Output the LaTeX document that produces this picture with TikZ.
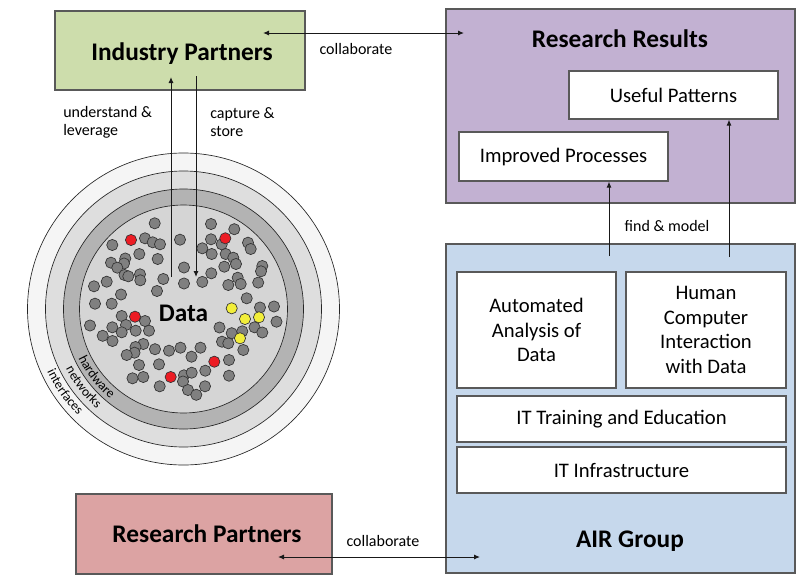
\documentclass[tikz,border=0pt]{standalone}
\usepackage{fontspec}
\setmainfont{Carlito}
\usetikzlibrary{arrows.meta,fit,decorations.text}

\definecolor{greenfill}{HTML}{CDDDAC}
\definecolor{purplefill}{HTML}{C2B1D2}
\definecolor{bluefill}{HTML}{C6D8EC}
\definecolor{redfill}{HTML}{DCA3A3}
\definecolor{frame}{HTML}{595959}
\definecolor{ringA}{HTML}{F5F5F5}
\definecolor{ringB}{HTML}{DEDEDE}
\definecolor{ringC}{HTML}{B3B3B3}
\definecolor{ringD}{HTML}{D5D5D5}
\definecolor{dotgray}{HTML}{808080}
\definecolor{dotedge}{HTML}{333333}
\definecolor{dotred}{HTML}{EC1C24}
\definecolor{dotyellow}{HTML}{F2EE3A}

\newcommand\titlefont{\fontsize{19}{22}\selectfont\bfseries}
\newcommand\boxfont{\fontsize{15.5}{18.4}\selectfont}
\newcommand\notefont{\fontsize{12}{13.6}\selectfont}

\tikzset{
  panel/.style={draw=frame, line width=0.9pt, inner sep=0pt},
  whitebox/.style={panel, fill=white},
  boxtext/.style={font=\boxfont, align=center, inner sep=0pt},
  title/.style={font=\titlefont, inner sep=0pt},
  note/.style={font=\notefont, align=left, inner sep=0pt},
  link/.style={line width=0.75pt, draw=black!90, -{Latex[length=4.5pt,width=3.8pt]}},
  duplex/.style={line width=0.75pt, draw=black!90, {Latex[length=4.5pt,width=3.8pt]}-{Latex[length=4.5pt,width=3.8pt]}},
  ring/.style={draw=black!85, line width=0.5pt},
  dotg/.style={draw=dotedge, line width=0.5pt, fill=dotgray},
  dotr/.style={draw=dotedge, line width=0.5pt, fill=dotred},
  doty/.style={draw=dotedge, line width=0.5pt, fill=dotyellow},
  ringlabel/.style={decorate, decoration={text along path, text align=center, text={|\fontsize{10}{12}\selectfont|#1}}}
}

\begin{document}
\begin{tikzpicture}[x=0.75pt,y=0.75pt]
\useasboundingbox (0,0) rectangle (804,-582);

% ---------- partner and result panels ----------
\node[panel, fill=greenfill, fit={(55,-11) (305,-90)}] (ip) {};
\node[title] (iptext) at (182,-54) {Industry Partners};

\node[panel, fill=purplefill, fit={(446,-9) (795,-203)}] (rr) {};
\node[title] (rrtext) at (620,-39) {Research Results};
\node[whitebox, fit={(569,-71) (778,-119)}] (up) {};
\node[boxtext] (uptext) at (up.center) {Useful Patterns};
\node[whitebox, fit={(459,-132) (668,-181)}] (ipr) {};
\node[boxtext] (iprtext) at (ipr.center) {Improved Processes};

\node[panel, fill=bluefill, fit={(446,-244) (795,-573)}] (air) {};
\node[whitebox, fit={(457,-272) (616,-388)}] (aad) {};
\node[boxtext] (aadtext) at (aad.center) {Automated\\Analysis of\\Data};
\node[whitebox, fit={(626,-272) (786,-388)}] (hci) {};
\node[boxtext] (hcitext) at (hci.center) {Human\\Computer\\Interaction\\with Data};
\node[whitebox, fit={(457,-396) (786,-442)}] (itt) {};
\node[boxtext] (itttext) at (itt.center) {IT Training and Education};
\node[whitebox, fit={(457,-447) (786,-493)}] (iti) {};
\node[boxtext] (ititext) at (iti.center) {IT Infrastructure};
\node[title] (airtext) at (630,-541) {AIR Group};

\node[panel, fill=redfill, fit={(76,-494) (332,-574)}] (rp) {};
\node[title] (rptext) at (207,-534) {Research Partners};

% ---------- data pool with its three layers ----------
\coordinate (C) at (183.5,-309);
\fill[ringA] (C) circle (156);  \draw[ring] (C) circle (156);
\fill[ringB] (C) circle (138);  \draw[ring] (C) circle (138);
\fill[ringC] (C) circle (120);  \draw[ring] (C) circle (120);
\fill[ringD] (C) circle (104);  \draw[ring] (C) circle (104);

\path[ringlabel=hardware]   (C) ++(176:116) arc[start angle=176, end angle=260, radius=116];
\path[ringlabel=networks]   (C) ++(176:132) arc[start angle=176, end angle=260, radius=132];
\path[ringlabel=interfaces] (C) ++(173:150) arc[start angle=173, end angle=257, radius=150];

% data points
\foreach \x/\y in {
  154.7/223.3, 145/238.3, 152.7/242.3, 160/244.3, 180/239.7, 112.3/245,
  139.3/254, 157.7/259, 125.3/258.5, 124/263.5, 111/262.7, 117.3/267.7,
  184/267.5, 124.5/275, 128.3/276.3, 140/274.3, 140.3/280.3, 163.3/279,
  106.7/281.7, 94/286.3, 157/291, 121/294.5, 95/303.7, 111.7/303.7, 184/283.5,
  211/224, 234.3/229.2, 211/239.3, 221.7/244.3, 248/242.7, 250.7/249,
  202.3/248.3, 211.7/254, 225.7/254, 233.3/257.7, 236/264, 224.3/266.7,
  262.3/266, 261/271.3, 211.3/273.3, 237.7/277.7, 202.3/281.9, 228.3/285,
  240.7/284, 258.2/282.6, 246.7/298.3, 260/307.5, 274/306.5,
  121.7/316, 145/321, 90/325.5, 112.3/327.3, 126/325, 121.7/332.3,
  135.7/330.7, 149/330.7, 102.7/335.8, 112.5/341, 143.3/344, 135.5/347,
  134.5/352.7, 126.7/355, 155/349.2, 169/350.7, 180.5/347.7, 139/365,
  159/364.3, 132.5/378.3, 143.3/377, 159.7/386.3, 184/375.3, 183/381.5,
  276.5/321.7, 219.5/327.5, 254.5/327.3, 262.3/332.5, 231.7/333.2,
  242.3/331.3, 222/341.7, 228.3/343.3, 243.3/350, 200.5/347.7, 191.5/356.7,
  229/360, 205.3/370.7, 191.7/372.7, 229/375.7, 205/386.3, 188/390, 196.3/394.8}
  \draw[dotg] (\x,-\y) circle (5.6);
\foreach \x/\y in {131/240, 225.3/238.3, 135/316.7, 170.7/377, 214.3/361.7}
  \draw[dotr] (\x,-\y) circle (5.6);
\foreach \x/\y in {231.7/308.3, 245/319, 259/317.3, 240/338.3}
  \draw[doty] (\x,-\y) circle (5.6);

\node[title] (data) at (183.5,-313) {Data};

% ---------- connectors ----------
\coordinate (ipE) at (263,-33);
\coordinate (rrW) at (464,-33);
\draw[duplex] (ipE) -- (rrW);
\node[note] (collab1) at (356,-49) {collaborate};

\coordinate (poolL) at (171,-277);
\coordinate (ipL)   at (171,-77);
\coordinate (ipR)   at (196,-76);
\coordinate (poolR) at (196,-277);
\draw[link] (poolL) -- (ipL);
\draw[link] (ipR) -- (poolR);
\node[note, anchor=west] (underst) at (63,-122) {understand \&\\leverage};
\node[note, anchor=west] (capture) at (210,-122) {capture \&\\store};

\coordinate (airA) at (609,-256);
\coordinate (airB) at (729,-257);
\draw[link] (airA) -- (airA |- ipr.south);
\draw[link] (airB) -- (airB |- up.south);
\node[note] (findmodel) at (667,-226) {find \& model};

\coordinate (rpE)  at (278,-557);
\coordinate (airW) at (480,-557);
\draw[duplex] (rpE) -- (airW);
\node[note] (collab2) at (383,-541) {collaborate};
\end{tikzpicture}
\end{document}
